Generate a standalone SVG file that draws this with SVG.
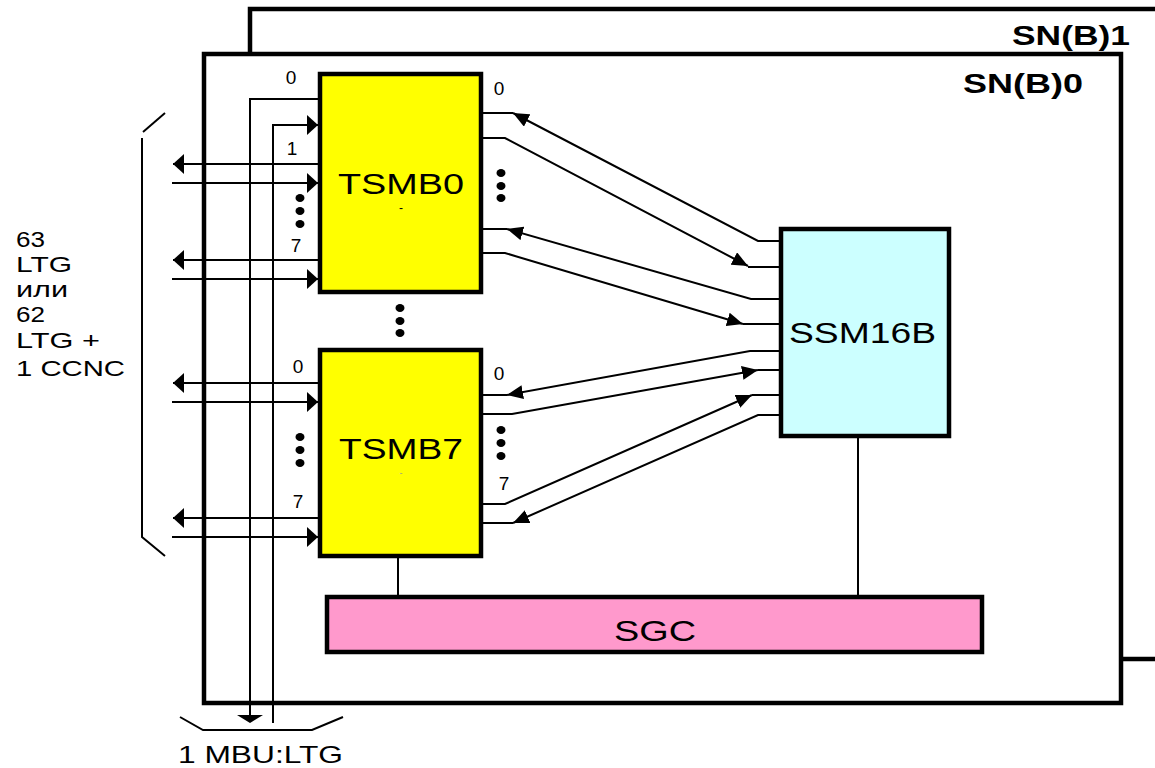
<svg xmlns="http://www.w3.org/2000/svg" width="1155" height="768" viewBox="0 0 1155 768">
<style>
text{font-family:"Liberation Sans",Arial,sans-serif;fill:#000}
.frame{fill:#fff;stroke:#000;stroke-width:4.5}
.box{stroke:#000;stroke-width:4.5}
.ln{fill:none;stroke:#000;stroke-width:2}
.lbl{font-size:19px;text-anchor:middle}
.big{font-size:29px}
.bold{font-weight:bold;font-size:28px}
.side{font-size:22px}
</style>
<defs>
<marker id="ah" markerUnits="userSpaceOnUse" markerWidth="12" markerHeight="20" refX="11" refY="10" orient="auto"><path d="M0,0 L11,10 L0,20 z" fill="#000"/></marker>
<marker id="ad" markerUnits="userSpaceOnUse" markerWidth="17" markerHeight="14" refX="16" refY="7" orient="auto"><path d="M0,0 L16,7 L0,14 z" fill="#000"/></marker>
</defs>

<g id="SNB1">
<rect class="frame" x="250" y="9" width="1000" height="650"/>
<text class="bold" x="1012" y="45" textLength="118" lengthAdjust="spacingAndGlyphs">SN(B)1</text>
</g>
<g id="SNB0">
<rect class="frame" x="204" y="54" width="917" height="649"/>
<text class="bold" x="963" y="93" textLength="120" lengthAdjust="spacingAndGlyphs">SN(B)0</text>
</g>

<g id="TSMB0">
<rect class="box" x="320" y="74" width="161" height="218" fill="#ffff00"/>
<text class="big" x="338" y="194" textLength="126" lengthAdjust="spacingAndGlyphs">TSMB0</text>
<text x="401" y="212" font-size="12" text-anchor="middle">-</text>
</g>
<g id="TSMB7">
<rect class="box" x="320" y="350" width="161" height="206" fill="#ffff00"/>
<text class="big" x="339" y="459" textLength="124" lengthAdjust="spacingAndGlyphs">TSMB7</text>
<text x="401" y="476" font-size="9" text-anchor="middle" style="fill:#999">-</text>
</g>
<g id="SSM16B">
<rect class="box" x="781" y="229" width="168" height="207" fill="#ccffff"/>
<text class="big" x="789" y="343" textLength="147" lengthAdjust="spacingAndGlyphs">SSM16B</text>
</g>
<g id="SGC">
<rect class="box" x="327" y="597" width="655" height="55" fill="#ff99cc"/>
<text class="big" x="614" y="641" textLength="82" lengthAdjust="spacingAndGlyphs">SGC</text>
</g>

<g id="connectors">
<path class="ln" d="M320,99 H250 V715"/>
<polygon points="237,715 263,715 250,723" fill="#000"/>
<path class="ln" d="M273,723 V125 H318" marker-end="url(#ah)"/>
<path class="ln" d="M320,164 H173" marker-end="url(#ah)"/>
<path class="ln" d="M172,183 H318" marker-end="url(#ah)"/>
<path class="ln" d="M320,260 H173" marker-end="url(#ah)"/>
<path class="ln" d="M172,279 H318" marker-end="url(#ah)"/>
<path class="ln" d="M320,383 H173" marker-end="url(#ah)"/>
<path class="ln" d="M172,402 H318" marker-end="url(#ah)"/>
<path class="ln" d="M320,518 H173" marker-end="url(#ah)"/>
<path class="ln" d="M172,537 H318" marker-end="url(#ah)"/>
<path class="ln" d="M781,241 H758 L513,113" marker-end="url(#ad)"/>
<path class="ln" d="M513,113 H481"/>
<path class="ln" d="M481,138 H505 L748,266" marker-end="url(#ad)"/>
<path class="ln" d="M748,267 H781"/>
<path class="ln" d="M781,299 H751 L507,229" marker-end="url(#ad)"/>
<path class="ln" d="M507,229 H481"/>
<path class="ln" d="M481,253 H505 L743,324" marker-end="url(#ad)"/>
<path class="ln" d="M743,324 H781"/>
<path class="ln" d="M781,351 H750 L507,395" marker-end="url(#ad)"/>
<path class="ln" d="M507,395 H481"/>
<path class="ln" d="M481,414 H512 L758,370" marker-end="url(#ad)"/>
<path class="ln" d="M758,370 H781"/>
<path class="ln" d="M481,504 H505 L752,395" marker-end="url(#ad)"/>
<path class="ln" d="M752,395 H781"/>
<path class="ln" d="M781,415 H758 L513,523" marker-end="url(#ad)"/>
<path class="ln" d="M513,523 H481"/>
<path class="ln" d="M398,556 V597"/>
<path class="ln" d="M858,436 V597"/>
</g>

<g id="labels">
<text class="lbl" x="291" y="84">0</text>
<text class="lbl" x="292" y="155">1</text>
<text class="lbl" x="296" y="252">7</text>
<text class="lbl" x="499" y="95">0</text>
<text class="lbl" x="298" y="373">0</text>
<text class="lbl" x="298" y="508">7</text>
<text class="lbl" x="499" y="380">0</text>
<text class="lbl" x="504" y="490">7</text>
<g fill="#000">
<ellipse cx="300" cy="198" rx="4.5" ry="4"/><ellipse cx="300" cy="211" rx="4.5" ry="4"/><ellipse cx="300" cy="224" rx="4.5" ry="4"/>
<ellipse cx="501" cy="173" rx="4.5" ry="4"/><ellipse cx="501" cy="186" rx="4.5" ry="4"/><ellipse cx="501" cy="198" rx="4.5" ry="4"/>
<ellipse cx="400" cy="308" rx="4.5" ry="4"/><ellipse cx="400" cy="321" rx="4.5" ry="4"/><ellipse cx="400" cy="333" rx="4.5" ry="4"/>
<ellipse cx="300" cy="437" rx="4.5" ry="4"/><ellipse cx="300" cy="450" rx="4.5" ry="4"/><ellipse cx="300" cy="463" rx="4.5" ry="4"/>
<ellipse cx="501" cy="430" rx="4.5" ry="4"/><ellipse cx="501" cy="443" rx="4.5" ry="4"/><ellipse cx="501" cy="456" rx="4.5" ry="4"/>
</g>
</g>

<g id="ltg-bracket">
<path class="ln" d="M143,132 L165,113"/>
<path class="ln" d="M142,138 V537 L165,556"/>
<text class="side" x="16" y="247" textLength="29" lengthAdjust="spacingAndGlyphs">63</text>
<text class="side" x="16" y="272" textLength="56" lengthAdjust="spacingAndGlyphs">LTG</text>
<text class="side" x="16" y="297" textLength="52" lengthAdjust="spacingAndGlyphs">или</text>
<text class="side" x="16" y="322" textLength="29" lengthAdjust="spacingAndGlyphs">62</text>
<text class="side" x="16" y="348" textLength="84" lengthAdjust="spacingAndGlyphs">LTG +</text>
<text class="side" x="16" y="376" textLength="109" lengthAdjust="spacingAndGlyphs">1 CCNC</text>
</g>

<g id="mbu-bracket">
<path class="ln" d="M180,717 L203,730 H312 L343,717"/>
<text x="178" y="763" font-size="24" textLength="165" lengthAdjust="spacingAndGlyphs">1 MBU:LTG</text>
</g>
</svg>
